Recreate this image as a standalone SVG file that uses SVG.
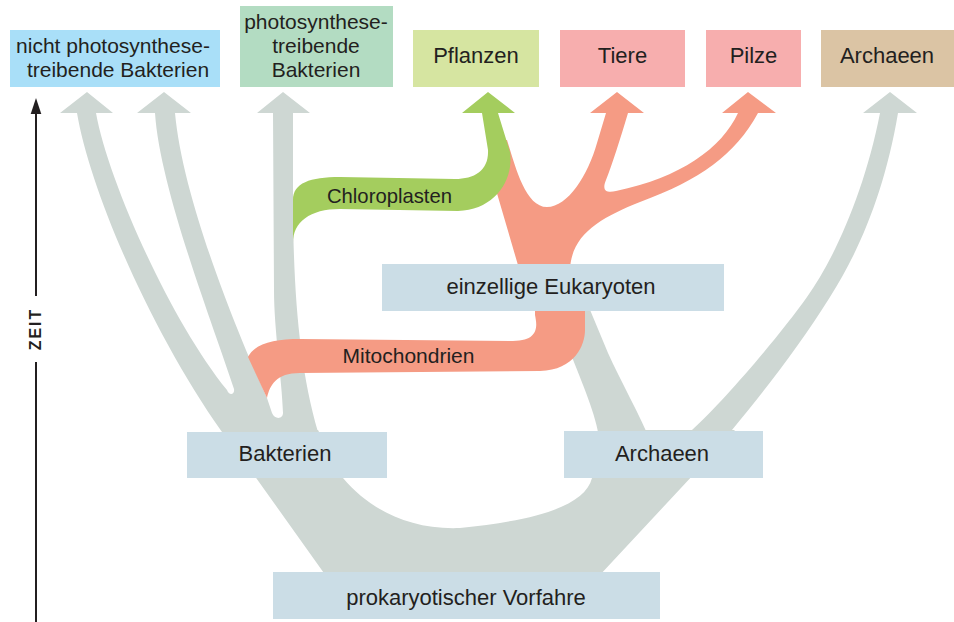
<svg xmlns="http://www.w3.org/2000/svg" width="954" height="622" viewBox="0 0 954 622">
<defs>
<style>
.gy{fill:#ced7d3}
.sa{fill:#f59b84}
.gn{fill:#a4cd5e}
.mid{fill:#cbdde6}
text{font-family:"Liberation Sans",Arial,sans-serif;font-size:22px;fill:#231f20;text-anchor:middle}
.ml{font-size:21px}
.axis{stroke:#231f20;stroke-width:2;fill:none}
</style>
</defs>
<rect width="954" height="622" fill="#ffffff"/>

<g id="connectors">
  <!-- gray lineages -->
  <path class="gy" d="M77,113 C90,190 150,330 222,432 L228,442 L323,442 L318,432 C300,370 294,300 293,213 L293,113 L310,113 L283,92 L257,113 L273,113 L274,290 C274,330 282,380 283,413 C283,419 275,420 272,413 L267,398 L249,357 C225,300 182,190 175,113 L191,113 L164,92 L137,113 L155,113 C160,190 215,330 234,389 C235,395 229,396 227,390 C170,320 108,180 96,113 L113,113 L87,92 L60,113 Z"/>
  <path class="gy" d="M222,430 L326,576 L599,576 L735,430 L598,430 L592,478 C585,505 540,520 460,528 C410,530 370,510 343,478 L318,430 Z"/>
  <path class="gy" d="M600,445 C598,420 585,390 572,357 L563,305 L588,305 L608,353 C620,380 640,415 652,445 Z"/>
  <path class="gy" d="M685,445 L692,430 C725,400 780,335 807,297 C835,258 865,190 880,113 L863,113 L890,92 L917,113 L898,113 C885,190 860,250 830,297 C800,345 765,390 732,430 L722,445 Z"/>
  <!-- eukaryote tree -->
  <path class="sa" d="M520,272 L496,190 L492,140 L507,140 C515,165 525,207 547,207 C568,207 588,175 597,143 L606,113 L590,113 L617,92 L644,113 L628,113 C620,140 612,165 606,180 C601,192 608,193 616,191 C680,178 722,148 738,113 L722,113 L748,92 L776,113 L758,113 C735,155 700,180 640,202 C600,218 570,235 570,272 Z"/>
  <!-- mitochondria -->
  <path class="sa" d="M535,305 L535,315 C537,325 540,341 513,341 L300,339 C275,339 255,343 248,357 L267,398 C270,385 276,373 300,373 L540,371 C575,370 585,345 585,330 L585,305 Z"/>
  <!-- chloroplasts -->
  <path class="gn" d="M293,243 L293,200 C293,183 310,177 340,177 L455,179 C475,179 489,170 488,150 L482,113 L462,113 L488,92 L515,113 L498,113 L510,152 C514,180 495,210 458,211 L340,209 C310,209 293,222 293,243 Z"/>
  <text x="389.5" y="203" style="font-size:20.3px">Chloroplasten</text>
  <text x="408.5" y="363" style="font-size:21px">Mitochondrien</text>
</g>

<g id="axis">
  <line class="axis" x1="36" y1="110" x2="36" y2="296"/>
  <line class="axis" x1="36" y1="362" x2="36" y2="622"/>
  <polygon points="36,98 30.7,114 41.3,114" fill="#231f20"/>
  <text transform="translate(41,329) rotate(-90)" style="font-size:16px;font-weight:bold;letter-spacing:2px">ZEIT</text>
</g>

<g id="node-nicht-photo">
  <rect x="10" y="30" width="210" height="57" fill="#a9dff8"/>
  <text class="ml"><tspan x="113" y="53">nicht photosynthese-</tspan><tspan x="118" y="77">treibende Bakterien</tspan></text>
</g>
<g id="node-photo">
  <rect x="240" y="6" width="153" height="81" fill="#b3dcc2"/>
  <text class="ml"><tspan x="316" y="29">photosynthese-</tspan><tspan x="316" y="53">treibende</tspan><tspan x="316" y="77">Bakterien</tspan></text>
</g>
<g id="node-pflanzen">
  <rect x="413" y="30" width="126" height="57" fill="#d6e5a1"/>
  <text x="476" y="63">Pflanzen</text>
</g>
<g id="node-tiere">
  <rect x="560" y="30" width="125" height="57" fill="#f7aeae"/>
  <text x="622.5" y="63">Tiere</text>
</g>
<g id="node-pilze">
  <rect x="706" y="30" width="95" height="57" fill="#f7aeae"/>
  <text x="753.5" y="63">Pilze</text>
</g>
<g id="node-archaeen-top">
  <rect x="821" y="30" width="133" height="57" fill="#dbc4a4"/>
  <text x="887" y="63">Archaeen</text>
</g>
<g id="node-eukaryoten">
  <rect class="mid" x="382" y="264" width="342" height="47"/>
  <text x="551" y="294">einzellige Eukaryoten</text>
</g>
<g id="node-bakterien">
  <rect class="mid" x="187" y="432" width="200" height="46"/>
  <text x="285" y="461">Bakterien</text>
</g>
<g id="node-archaeen">
  <rect class="mid" x="564" y="431" width="199" height="47"/>
  <text x="662" y="461">Archaeen</text>
</g>
<g id="node-vorfahre">
  <rect class="mid" x="273" y="572" width="387" height="47"/>
  <text x="466" y="605">prokaryotischer Vorfahre</text>
</g>
</svg>
